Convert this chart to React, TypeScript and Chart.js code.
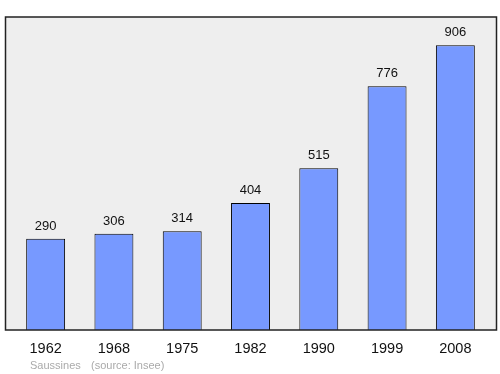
import React, { useEffect, useRef } from "react";
import { Chart, registerables } from "chart.js";

Chart.register(...registerables);

const years = ["1962", "1968", "1975", "1982", "1990", "1999", "2008"];
const population = [290, 306, 314, 404, 515, 776, 906];
const footerName = "Saussines";
const footerSource = "(source: Insee)";

const framePlugin = {
  id: "frame",
  beforeDatasetsDraw(chart: any) {
    const { ctx, chartArea } = chart;
    ctx.save();
    const left = 5.5, right = 496.5, top = chartArea.top, bottom = chartArea.bottom;
    ctx.fillStyle = "#eeeeee";
    ctx.fillRect(left, top, right - left, bottom - top);
    ctx.restore();
  },
  afterDatasetsDraw(chart: any) {
    const { ctx, chartArea } = chart;
    ctx.save();
    const left = 5.5, right = 496.5, top = chartArea.top, bottom = chartArea.bottom;
    ctx.strokeStyle = "#222222";
    ctx.lineWidth = 1.5;
    ctx.strokeRect(left, top, right - left, bottom - top);
    // value labels
    const meta = chart.getDatasetMeta(0);
    ctx.fillStyle = "#111111";
    ctx.font = "13px 'Liberation Sans', Arial, sans-serif";
    ctx.textAlign = "center";
    ctx.textBaseline = "alphabetic";
    meta.data.forEach((bar: any, i: number) => {
      ctx.fillText(String(chart.data.datasets[0].data[i]), bar.x, bar.y - 9);
    });
    // footer
    ctx.fillStyle = "#aaaaaa";
    ctx.font = "11px 'Liberation Sans', Arial, sans-serif";
    ctx.textAlign = "left";
    ctx.fillText(footerName, 30, 369);
    ctx.fillText(footerSource, 91, 369);
    ctx.restore();
  },
};

export default function App() {
  const ref = useRef<HTMLCanvasElement>(null);
  useEffect(() => {
    const chart = new Chart(ref.current!, {
      type: "bar",
      data: {
        labels: years,
        datasets: [
          {
            data: population,
            backgroundColor: "#7799ff",
            borderColor: "#000000",
            borderWidth: 1,
            barPercentage: 0.57,
            categoryPercentage: 1,
          },
        ],
      },
      options: {
        animation: false,
        responsive: false,
        layout: { padding: { top: 17, left: 11.5, right: 10.5, bottom: 0 } },
        plugins: { legend: { display: false }, tooltip: { enabled: false } },
        scales: {
          y: { display: false, min: 0, max: 996 },
          x: {
            grid: { display: false },
            border: { display: false },
            ticks: {
              color: "#111111",
              font: { size: 14.5, family: "'Liberation Sans', Arial, sans-serif" },
              padding: 2,
            },
            afterFit: (scale: any) => {
              scale.height = 44;
            },
          },
        },
      },
      plugins: [framePlugin],
    });
    return () => chart.destroy();
  }, []);
  return (
    <div style={{ position: "absolute", left: 0, top: 0, width: 500, height: 374 }}>
      <canvas ref={ref} width={500} height={374} />
    </div>
  );
}
